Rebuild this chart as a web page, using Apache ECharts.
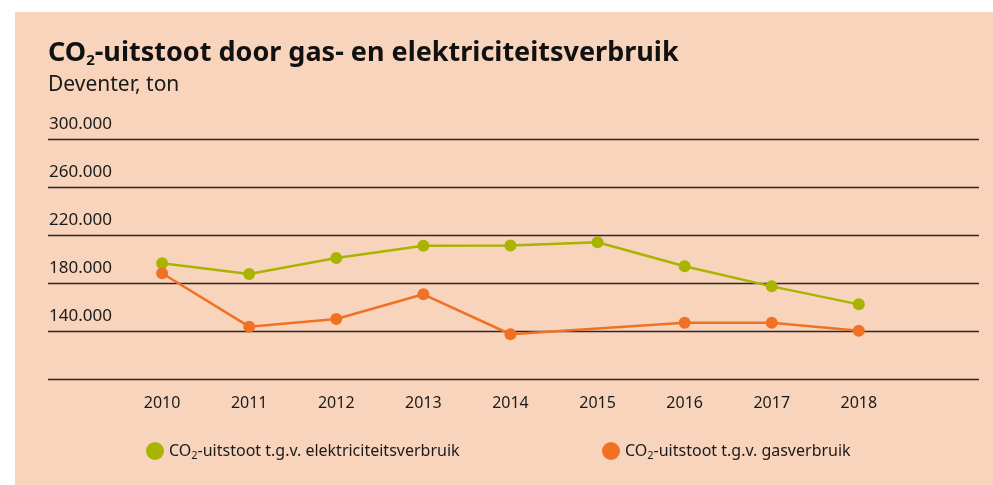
<!DOCTYPE html>
<html>
<head>
<meta charset="utf-8">
<title>CO2-uitstoot Deventer</title>
<script src="https://cdn.jsdelivr.net/npm/echarts@6/dist/echarts.min.js"></script>
<style>
  html, body { margin: 0; padding: 0; background: #fff; }
  #chart { position: absolute; left: 15px; top: 12px; width: 978px; height: 473px; }
</style>
</head>
<body>
<div id="chart"></div>
<script>
// data (ton CO2)
const years = [2010, 2011, 2012, 2013, 2014, 2015, 2016, 2017, 2018]
const elektriciteit = [196400, 187500, 200800, 211100, 211300, 213900, 193900, 177200, 162200]
const gas = [188100, 143600, 150000, 170600, 137300, null, 146900, 146900, 140300]
const yTicks = [100000, 140000, 180000, 220000, 260000, 300000]

const seriesNames = ['CO2-uitstoot t.g.v. elektriciteitsverbruik', 'CO2-uitstoot t.g.v. gasverbruik']
const colors = ['#a8b400', '#f07124']

const font = "'Noto Sans', 'Open Sans', sans-serif"
const sub = { fontSize: 11, padding: [9, 0, 0, 0], fontFamily: font, color: '#1a1a1a' }

const chart = echarts.init(document.getElementById('chart'))

const fmt = v => String(v).replace(/\B(?=(\d{3})+(?!\d))/g, '.')

const legendFor = (name, left) => ({
  data: [name],
  left: left,
  top: 425,
  icon: 'circle',
  itemWidth: 18,
  itemHeight: 18,
  selectedMode: false,
  formatter: n => n.replace('CO2', 'CO{s|2}'),
  textStyle: {
    fontFamily: font,
    fontSize: 16,
    color: '#1a1a1a',
    rich: { s: sub }
  }
})

chart.setOption({
  backgroundColor: '#f9d4bd',
  animation: false,
  title: {
    left: 28,
    top: 22,
    text: '{b|CO}{bs|2}{b|-uitstoot door gas- en elektriciteitsverbruik}',
    subtext: 'Deventer, ton',
    itemGap: 8,
    textStyle: {
      rich: {
        b: { fontFamily: font, fontWeight: 'bold', fontSize: 27, color: '#111' },
        bs: { fontFamily: font, fontWeight: 'bold', fontSize: 15, color: '#111', padding: [14, 0, 0, 0] }
      }
    },
    subtextStyle: { fontFamily: font, fontSize: 21, color: '#1a1a1a' }
  },
  legend: [
    legendFor(seriesNames[0], 126),
    legendFor(seriesNames[1], 582)
  ],
  grid: { left: 33, right: 14, top: 127, bottom: 106 },
  xAxis: {
    type: 'value',
    min: 2008.69,
    max: 2019.38,
    axisLine: { show: false },
    axisTick: { show: false },
    splitLine: { show: false },
    axisLabel: {
      customValues: years,
      margin: 16,
      fontFamily: font,
      fontSize: 16,
      color: '#1a1a1a',
      formatter: v => String(v)
    }
  },
  yAxis: {
    type: 'value',
    min: 100000,
    max: 300000,
    interval: 40000,
    axisLine: { show: false },
    axisTick: { show: false },
    splitLine: { lineStyle: { color: '#2e2624', width: 1.3 } },
    axisLabel: {
      inside: true,
      margin: 1,
      verticalAlign: 'bottom',
      padding: [0, 0, 6, 0],
      fontFamily: font,
      fontSize: 17,
      color: '#1a1a1a',
      formatter: v => (v === yTicks[0] ? '' : fmt(v))
    }
  },
  series: [
    {
      name: seriesNames[0],
      type: 'line',
      data: years.map((y, i) => [y, elektriciteit[i]]),
      symbol: 'circle',
      symbolSize: 12,
      color: colors[0],
      lineStyle: { width: 2.5 }
    },
    {
      name: seriesNames[1],
      type: 'line',
      data: years.map((y, i) => [y, gas[i]]),
      connectNulls: true,
      symbol: 'circle',
      symbolSize: 12,
      color: colors[1],
      lineStyle: { width: 2.5 }
    }
  ]
})

window.addEventListener('resize', () => chart.resize())
</script>
</body>
</html>
